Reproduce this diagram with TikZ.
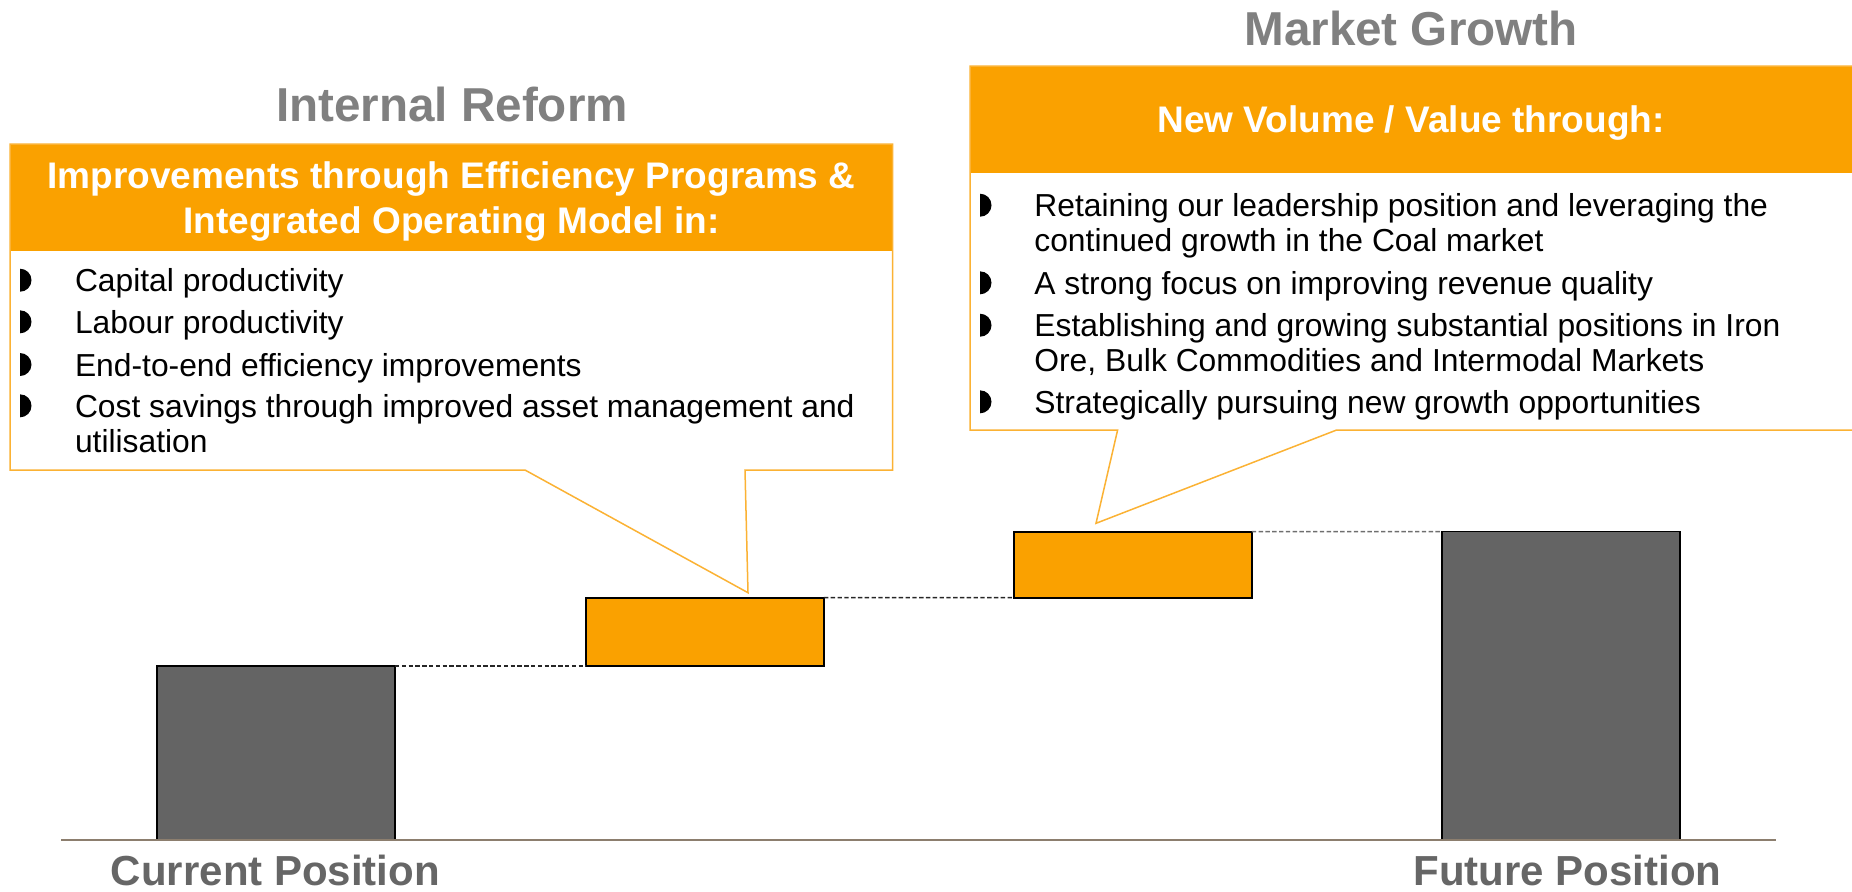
\documentclass[tikz,border=0pt]{standalone}
\usepackage{fontspec}
\setmainfont{Liberation Sans}
\definecolor{brandorange}{RGB}{250,161,0}
\definecolor{calloutline}{RGB}{251,178,52}
\definecolor{bargrey}{RGB}{100,100,100}
\definecolor{titlegrey}{RGB}{128,128,128}
\definecolor{labelgrey}{RGB}{102,102,102}
\definecolor{axisbrown}{RGB}{140,126,110}
\definecolor{linkgrey}{RGB}{110,110,110}

% half-disc bullet: #1,#2 = lower left corner (on the baseline)
\newcommand\dbul[2]{\fill (#1,#2) arc[start angle=90,end angle=-90,radius=11.5] -- cycle;}

\begin{document}
\begin{tikzpicture}[x=0.5pt,y=-0.5pt,
  title/.style={font=\fontsize{23.8pt}{28pt}\selectfont\bfseries, text=titlegrey, anchor=base, inner sep=0},
  head/.style={font=\fontsize{18.5pt}{22pt}\selectfont\bfseries, text=white, anchor=base, inner sep=0},
  item/.style={font=\fontsize{15.9pt}{18pt}\selectfont, text=black, anchor=base west, inner sep=0},
  poslabel/.style={font=\fontsize{21pt}{25pt}\selectfont\bfseries, text=labelgrey, anchor=base, inner sep=0},
  outline/.style={draw=calloutline, line width=0.75pt},
  header/.style={fill=brandorange},
  greybar/.style={draw=black, line width=0.7pt, fill=bargrey, inner sep=0, outer sep=0, minimum width=119pt},
  stepbar/.style={draw=black, line width=1.2pt, fill=brandorange, inner sep=0, outer sep=0, minimum width=119pt},
  link/.style={dash pattern=on 2.2pt off 1.2pt, line width=0.75pt},
]
\useasboundingbox (0,0) rectangle (1852,891);
\clip (0,0) rectangle (1852,891);

% waterfall bars
\node[greybar, minimum height=87pt] (cur) at (276,753) {};
\node[stepbar, minimum height=34.15pt] (o1) at (704.9,631.85) {};
\node[stepbar, minimum height=33pt] (o2) at (1132.8,564.7) {};
\node[greybar, minimum height=154.15pt] (fut) at (1560.85,685.85) {};

% dotted level links between bars
\draw[link, black!85] (cur.north east) -- (o1.south west);
\draw[link, black!85] (o1.north east) -- (o2.south west);
\draw[link, linkgrey] (o2.north east) -- (fut.north west);

% base axis
\coordinate (axl) at (61,839.5);
\coordinate (axr) at (1776,839.5);
\draw[axisbrown, line width=1pt] (axl) -- (axr);

% left callout
\coordinate (lt) at (748,592.7);
\fill[white] (10,144) -- (892.6,144) -- (892.6,470) -- (745,470) -- (lt) -- (525,470) -- (10,470) -- cycle;
\fill[header] (10,144) rectangle (892.6,250.7);
\draw[outline] (10,144) -- (892.6,144) -- (892.6,470) -- (745,470) -- (lt) -- (525,470) -- (10,470) -- cycle;

% right callout
\coordinate (rt) at (1096,523.3);
\fill[white] (970,66) -- (1860,66) -- (1860,430) -- (1336.6,430) -- (rt) -- (1117.6,430) -- (970,430) -- cycle;
\fill[header] (970,66) rectangle (1860,172.7);
\draw[outline] (970,66) -- (1860,66) -- (1860,430) -- (1336.6,430) -- (rt) -- (1117.6,430) -- (970,430) -- cycle;

% titles
\node[title] (t1) at (452,121.7) {Internal Reform};
\node[title] (t2) at (1411,45) {Market Growth};

% callout headers
\node[head] (h1a) at (451.5,188.3) {Improvements through Efficiency Programs \&};
\node[head] (h1b) at (451.5,233.8) {Integrated Operating Model in:};
\node[head] (h2) at (1411,132.7) {New Volume / Value through:};

% left items
\dbul{20}{291.7}
\node[item] (l1) at (74.6,291.7) {Capital productivity};
\dbul{20}{333.3}
\node[item] (l2) at (74.6,333.3) {Labour productivity};
\dbul{20}{376}
\node[item] (l3) at (74.6,376) {End-to-end efficiency improvements};
\dbul{20}{417.3}
\node[item] (l4a) at (74.6,417.3) {Cost savings through improved asset management and};
\node[item] (l4b) at (74.6,452.7) {utilisation};

% right items
\dbul{980}{216.7}
\node[item] (r1a) at (1034,216.7) {Retaining our leadership position and leveraging the};
\node[item] (r1b) at (1034,251.7) {continued growth in the Coal market};
\dbul{980}{294.3}
\node[item] (r2) at (1034,294.3) {A strong focus on improving revenue quality};
\dbul{980}{336.7}
\node[item] (r3a) at (1034,336.7) {Establishing and growing substantial positions in Iron};
\node[item] (r3b) at (1034,371.7) {Ore, Bulk Commodities and Intermodal Markets};
\dbul{980}{413.3}
\node[item] (r4) at (1034,413.3) {Strategically pursuing new growth opportunities};

% position labels
\node[poslabel] (lcur) at (275.5,885) {Current Position};
\node[poslabel] (lfut) at (1567.5,885) {Future Position};
\end{tikzpicture}
\end{document}
